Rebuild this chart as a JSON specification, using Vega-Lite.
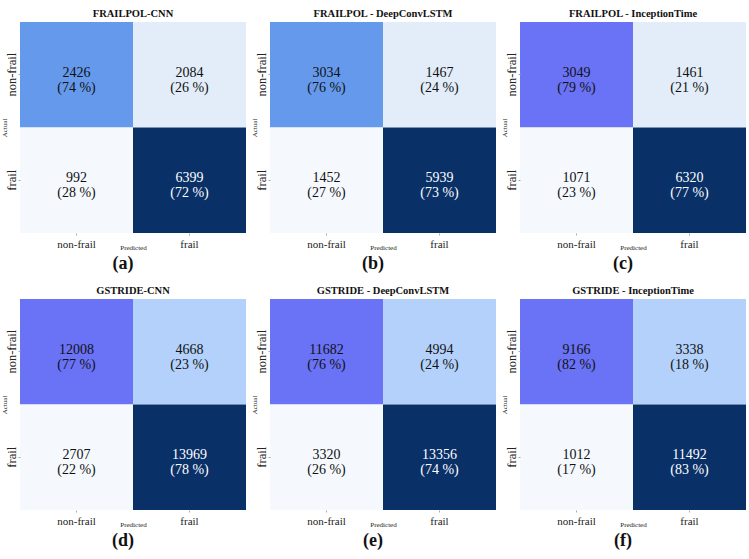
{
  "$schema": "https://vega.github.io/schema/vega-lite/v6.json",
  "padding": {"left": 0, "top": 8, "right": 0, "bottom": 0},
  "background": "white",
  "data": {"values": [
    {"panel": "a", "actual": "non-frail", "predicted": "non-frail", "count": 2426, "pct": 74, "shade": "cornflower"},
    {"panel": "a", "actual": "non-frail", "predicted": "frail", "count": 2084, "pct": 26, "shade": "pale"},
    {"panel": "a", "actual": "frail", "predicted": "non-frail", "count": 992, "pct": 28, "shade": "lightest"},
    {"panel": "a", "actual": "frail", "predicted": "frail", "count": 6399, "pct": 72, "shade": "dark"},
    {"panel": "b", "actual": "non-frail", "predicted": "non-frail", "count": 3034, "pct": 76, "shade": "cornflower"},
    {"panel": "b", "actual": "non-frail", "predicted": "frail", "count": 1467, "pct": 24, "shade": "pale"},
    {"panel": "b", "actual": "frail", "predicted": "non-frail", "count": 1452, "pct": 27, "shade": "lightest"},
    {"panel": "b", "actual": "frail", "predicted": "frail", "count": 5939, "pct": 73, "shade": "dark"},
    {"panel": "c", "actual": "non-frail", "predicted": "non-frail", "count": 3049, "pct": 79, "shade": "slate"},
    {"panel": "c", "actual": "non-frail", "predicted": "frail", "count": 1461, "pct": 21, "shade": "pale"},
    {"panel": "c", "actual": "frail", "predicted": "non-frail", "count": 1071, "pct": 23, "shade": "lightest"},
    {"panel": "c", "actual": "frail", "predicted": "frail", "count": 6320, "pct": 77, "shade": "dark"},
    {"panel": "d", "actual": "non-frail", "predicted": "non-frail", "count": 12008, "pct": 77, "shade": "slate"},
    {"panel": "d", "actual": "non-frail", "predicted": "frail", "count": 4668, "pct": 23, "shade": "lightblue"},
    {"panel": "d", "actual": "frail", "predicted": "non-frail", "count": 2707, "pct": 22, "shade": "lightest"},
    {"panel": "d", "actual": "frail", "predicted": "frail", "count": 13969, "pct": 78, "shade": "dark"},
    {"panel": "e", "actual": "non-frail", "predicted": "non-frail", "count": 11682, "pct": 76, "shade": "slate"},
    {"panel": "e", "actual": "non-frail", "predicted": "frail", "count": 4994, "pct": 24, "shade": "lightblue"},
    {"panel": "e", "actual": "frail", "predicted": "non-frail", "count": 3320, "pct": 26, "shade": "lightest"},
    {"panel": "e", "actual": "frail", "predicted": "frail", "count": 13356, "pct": 74, "shade": "dark"},
    {"panel": "f", "actual": "non-frail", "predicted": "non-frail", "count": 9166, "pct": 82, "shade": "slate"},
    {"panel": "f", "actual": "non-frail", "predicted": "frail", "count": 3338, "pct": 18, "shade": "lightblue"},
    {"panel": "f", "actual": "frail", "predicted": "non-frail", "count": 1012, "pct": 17, "shade": "lightest"},
    {"panel": "f", "actual": "frail", "predicted": "frail", "count": 11492, "pct": 83, "shade": "dark"}
  ]},
  "transform": [{"calculate": "'(' + datum.pct + ' %)'", "as": "pctLabel"}],
  "spacing": 12,
  "vconcat": [
    {"hconcat": [
      {"title": {"text": "(a)", "orient": "bottom", "anchor": "middle", "fontSize": 18, "offset": 5},
       "vconcat": [{
        "title": {"text": "FRAILPOL-CNN", "anchor": "middle"}, "width": 226, "height": 211,
        "transform": [{"filter": "datum.panel == 'a'"}],
        "encoding": {
          "x": {"field": "predicted", "type": "nominal", "sort": ["non-frail", "frail"], "title": "Predicted"},
          "y": {"field": "actual", "type": "nominal", "sort": ["non-frail", "frail"], "title": "Actual"}
        },
        "layer": [
          {"mark": "rect", "encoding": {"color": {"field": "shade", "type": "nominal", "legend": null, "scale": {"domain": ["lightest", "pale", "lightblue", "cornflower", "slate", "dark"], "range": ["#f5f9fe", "#e2edf9", "#b3d1fb", "#6599ec", "#6a72f6", "#0a3068"]}}}},
          {"mark": {"type": "text", "dy": -2, "fontSize": 14}, "encoding": {"text": {"field": "count", "type": "quantitative", "format": "d"}, "color": {"condition": {"test": "datum.shade == 'dark'", "value": "white"}, "value": "#111"}}},
          {"mark": {"type": "text", "dy": 13, "fontSize": 14}, "encoding": {"text": {"field": "pctLabel"}, "color": {"condition": {"test": "datum.shade == 'dark'", "value": "white"}, "value": "#111"}}}
        ]
      }]},
      {"title": {"text": "(b)", "orient": "bottom", "anchor": "middle", "fontSize": 18, "offset": 5},
       "vconcat": [{
        "title": {"text": "FRAILPOL - DeepConvLSTM", "anchor": "middle"}, "width": 226, "height": 211,
        "transform": [{"filter": "datum.panel == 'b'"}],
        "encoding": {
          "x": {"field": "predicted", "type": "nominal", "sort": ["non-frail", "frail"], "title": "Predicted"},
          "y": {"field": "actual", "type": "nominal", "sort": ["non-frail", "frail"], "title": "Actual"}
        },
        "layer": [
          {"mark": "rect", "encoding": {"color": {"field": "shade", "type": "nominal", "legend": null, "scale": {"domain": ["lightest", "pale", "lightblue", "cornflower", "slate", "dark"], "range": ["#f5f9fe", "#e2edf9", "#b3d1fb", "#6599ec", "#6a72f6", "#0a3068"]}}}},
          {"mark": {"type": "text", "dy": -2, "fontSize": 14}, "encoding": {"text": {"field": "count", "type": "quantitative", "format": "d"}, "color": {"condition": {"test": "datum.shade == 'dark'", "value": "white"}, "value": "#111"}}},
          {"mark": {"type": "text", "dy": 13, "fontSize": 14}, "encoding": {"text": {"field": "pctLabel"}, "color": {"condition": {"test": "datum.shade == 'dark'", "value": "white"}, "value": "#111"}}}
        ]
      }]},
      {"title": {"text": "(c)", "orient": "bottom", "anchor": "middle", "fontSize": 18, "offset": 5},
       "vconcat": [{
        "title": {"text": "FRAILPOL - InceptionTime", "anchor": "middle"}, "width": 226, "height": 211,
        "transform": [{"filter": "datum.panel == 'c'"}],
        "encoding": {
          "x": {"field": "predicted", "type": "nominal", "sort": ["non-frail", "frail"], "title": "Predicted"},
          "y": {"field": "actual", "type": "nominal", "sort": ["non-frail", "frail"], "title": "Actual"}
        },
        "layer": [
          {"mark": "rect", "encoding": {"color": {"field": "shade", "type": "nominal", "legend": null, "scale": {"domain": ["lightest", "pale", "lightblue", "cornflower", "slate", "dark"], "range": ["#f5f9fe", "#e2edf9", "#b3d1fb", "#6599ec", "#6a72f6", "#0a3068"]}}}},
          {"mark": {"type": "text", "dy": -2, "fontSize": 14}, "encoding": {"text": {"field": "count", "type": "quantitative", "format": "d"}, "color": {"condition": {"test": "datum.shade == 'dark'", "value": "white"}, "value": "#111"}}},
          {"mark": {"type": "text", "dy": 13, "fontSize": 14}, "encoding": {"text": {"field": "pctLabel"}, "color": {"condition": {"test": "datum.shade == 'dark'", "value": "white"}, "value": "#111"}}}
        ]
      }]}
    ]},
    {"hconcat": [
      {"title": {"text": "(d)", "orient": "bottom", "anchor": "middle", "fontSize": 18, "offset": 5},
       "vconcat": [{
        "title": {"text": "GSTRIDE-CNN", "anchor": "middle"}, "width": 226, "height": 211,
        "transform": [{"filter": "datum.panel == 'd'"}],
        "encoding": {
          "x": {"field": "predicted", "type": "nominal", "sort": ["non-frail", "frail"], "title": "Predicted"},
          "y": {"field": "actual", "type": "nominal", "sort": ["non-frail", "frail"], "title": "Actual"}
        },
        "layer": [
          {"mark": "rect", "encoding": {"color": {"field": "shade", "type": "nominal", "legend": null, "scale": {"domain": ["lightest", "pale", "lightblue", "cornflower", "slate", "dark"], "range": ["#f5f9fe", "#e2edf9", "#b3d1fb", "#6599ec", "#6a72f6", "#0a3068"]}}}},
          {"mark": {"type": "text", "dy": -2, "fontSize": 14}, "encoding": {"text": {"field": "count", "type": "quantitative", "format": "d"}, "color": {"condition": {"test": "datum.shade == 'dark'", "value": "white"}, "value": "#111"}}},
          {"mark": {"type": "text", "dy": 13, "fontSize": 14}, "encoding": {"text": {"field": "pctLabel"}, "color": {"condition": {"test": "datum.shade == 'dark'", "value": "white"}, "value": "#111"}}}
        ]
      }]},
      {"title": {"text": "(e)", "orient": "bottom", "anchor": "middle", "fontSize": 18, "offset": 5},
       "vconcat": [{
        "title": {"text": "GSTRIDE - DeepConvLSTM", "anchor": "middle"}, "width": 226, "height": 211,
        "transform": [{"filter": "datum.panel == 'e'"}],
        "encoding": {
          "x": {"field": "predicted", "type": "nominal", "sort": ["non-frail", "frail"], "title": "Predicted"},
          "y": {"field": "actual", "type": "nominal", "sort": ["non-frail", "frail"], "title": "Actual"}
        },
        "layer": [
          {"mark": "rect", "encoding": {"color": {"field": "shade", "type": "nominal", "legend": null, "scale": {"domain": ["lightest", "pale", "lightblue", "cornflower", "slate", "dark"], "range": ["#f5f9fe", "#e2edf9", "#b3d1fb", "#6599ec", "#6a72f6", "#0a3068"]}}}},
          {"mark": {"type": "text", "dy": -2, "fontSize": 14}, "encoding": {"text": {"field": "count", "type": "quantitative", "format": "d"}, "color": {"condition": {"test": "datum.shade == 'dark'", "value": "white"}, "value": "#111"}}},
          {"mark": {"type": "text", "dy": 13, "fontSize": 14}, "encoding": {"text": {"field": "pctLabel"}, "color": {"condition": {"test": "datum.shade == 'dark'", "value": "white"}, "value": "#111"}}}
        ]
      }]},
      {"title": {"text": "(f)", "orient": "bottom", "anchor": "middle", "fontSize": 18, "offset": 5},
       "vconcat": [{
        "title": {"text": "GSTRIDE - InceptionTime", "anchor": "middle"}, "width": 226, "height": 211,
        "transform": [{"filter": "datum.panel == 'f'"}],
        "encoding": {
          "x": {"field": "predicted", "type": "nominal", "sort": ["non-frail", "frail"], "title": "Predicted"},
          "y": {"field": "actual", "type": "nominal", "sort": ["non-frail", "frail"], "title": "Actual"}
        },
        "layer": [
          {"mark": "rect", "encoding": {"color": {"field": "shade", "type": "nominal", "legend": null, "scale": {"domain": ["lightest", "pale", "lightblue", "cornflower", "slate", "dark"], "range": ["#f5f9fe", "#e2edf9", "#b3d1fb", "#6599ec", "#6a72f6", "#0a3068"]}}}},
          {"mark": {"type": "text", "dy": -2, "fontSize": 14}, "encoding": {"text": {"field": "count", "type": "quantitative", "format": "d"}, "color": {"condition": {"test": "datum.shade == 'dark'", "value": "white"}, "value": "#111"}}},
          {"mark": {"type": "text", "dy": 13, "fontSize": 14}, "encoding": {"text": {"field": "pctLabel"}, "color": {"condition": {"test": "datum.shade == 'dark'", "value": "white"}, "value": "#111"}}}
        ]
      }]}
    ]}
  ],
  "config": {
    "font": "Liberation Serif",
    "view": {"stroke": null},
    "concat": {"spacing": 4},
    "text": {"font": "Liberation Serif"},
    "axis": {"domain": false, "grid": false, "ticks": true, "tickSize": 2, "tickColor": "#aaa", "labelFont": "Liberation Serif", "titleFont": "Liberation Serif", "labelColor": "#222", "titleColor": "#222", "titleFontWeight": "normal", "titleFontSize": 7},
    "axisX": {"labelAngle": 0, "labelFontSize": 11, "labelPadding": 3, "titlePadding": -6},
    "axisY": {"labelAngle": -90, "labelFontSize": 12.5, "labelPadding": 0, "labelAlign": "center", "labelBaseline": "bottom", "titlePadding": -2},
    "title": {"font": "Liberation Serif", "fontSize": 10.5, "fontWeight": "bold", "color": "#111", "offset": 3}
  }
}
